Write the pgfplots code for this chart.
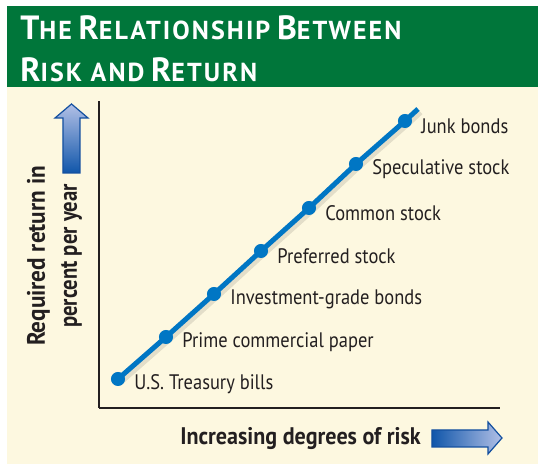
\documentclass[border=0pt]{standalone}
\usepackage{pgfplots}
\pgfplotsset{compat=1.18}
\usepackage{fontspec}
\setmainfont{PT Sans}[FakeStretch=0.88]
\newfontfamily\boldlab{PT Sans}[FakeStretch=0.92]
\newfontfamily\boldlabn{PT Sans}[FakeStretch=0.82]
\newfontfamily\titlefont{PT Sans}[LetterSpace=8]
\definecolor{bannergreen}{RGB}{0,118,58}
\definecolor{cream}{RGB}{253,248,224}
\definecolor{lineblue}{RGB}{0,118,196}
\definecolor{darktext}{RGB}{35,31,32}
\definecolor{arrowdark}{RGB}{16,86,170}
\definecolor{arrowlight}{RGB}{178,192,230}
\definecolor{arrowedge}{RGB}{20,80,160}
\newcommand\tsc[2]{{\fontsize{16.8pt}{17pt}\selectfont #1}{\fontsize{13pt}{13pt}\selectfont #2}}
\begin{document}
\begin{tikzpicture}[x=0.5pt,y=0.5pt]
\fill[white] (0,0) rectangle (538,464);
\fill[cream] (7,0) rectangle (538,377);
\fill[bannergreen] (7,377) rectangle (538,458);
\node[anchor=base west,inner sep=0pt,text=white,font=\titlefont\bfseries] at (20,424)
  {\tsc{T}{HE} \tsc{R}{ELATIONSHIP} \tsc{B}{ETWEEN}};
\node[anchor=base west,inner sep=0pt,text=white,font=\titlefont\bfseries] at (20,382)
  {\tsc{R}{ISK AND} \tsc{R}{ETURN}};
\begin{axis}[
  at={(49.5pt,28pt)}, anchor=south west,
  scale only axis, width=200.5pt, height=153.5pt,
  xmin=99, xmax=500, ymin=56, ymax=363,
  axis lines=left, axis line style={-, darktext, line width=1pt},
  ticks=none, clip=false,
]
\addplot[no marks, black, opacity=0.1, line width=3pt, xshift=1.2pt, yshift=-1.5pt]
  coordinates {(118,85) (166,127) (214,170) (261,213) (309,256) (356,300) (405,343) (418,355)};
\addplot[no marks, lineblue, line width=2.5pt]
  coordinates {(118,85) (166,127) (214,170) (261,213) (309,256) (356,300) (405,343) (418,355)};
\addplot[only marks, mark=*, mark size=3.3pt, mark options={fill=lineblue, draw=lineblue},
  point meta=explicit symbolic, nodes near coords,
  nodes near coords style={anchor=west, xshift=8pt, yshift=-2.8pt, text=darktext, font=\fontsize{10.5pt}{12pt}\selectfont, inner sep=0pt}]
  coordinates {
  (118,85) [U.S. Treasury bills]
  (166,127) [Prime commercial paper]
  (214,170) [Investment-grade bonds]
  (261,213) [Preferred stock]
  (309,256) [Common stock]
  (356,300) [Speculative stock]
  (405,343) [Junk bonds]
  };
\end{axis}
\node[rotate=90,anchor=base,inner sep=0pt,text=darktext,font=\boldlab\bfseries\fontsize{12.6pt}{14pt}\selectfont] at (45,208) {Required return in};
\node[rotate=90,anchor=base,inner sep=0pt,text=darktext,font=\boldlabn\bfseries\fontsize{12.6pt}{14pt}\selectfont] at (77,208) {percent per year};
\draw[arrowedge, line width=0.6pt, top color=arrowlight, bottom color=arrowdark]
  (63,291) -- (63,346) -- (55,346) -- (71.5,360) -- (88,346) -- (80,346) -- (80,291) -- cycle;
\node[anchor=base,inner sep=0pt,text=darktext,font=\boldlab\bfseries\fontsize{12pt}{14pt}\selectfont] at (300.5,19) {Increasing degrees of risk};
\draw[arrowedge, line width=0.6pt, left color=arrowdark, right color=arrowlight]
  (432,17) -- (488,17) -- (488,10) -- (502,26) -- (488,42) -- (488,34) -- (432,34) -- cycle;
\end{tikzpicture}
\end{document}
